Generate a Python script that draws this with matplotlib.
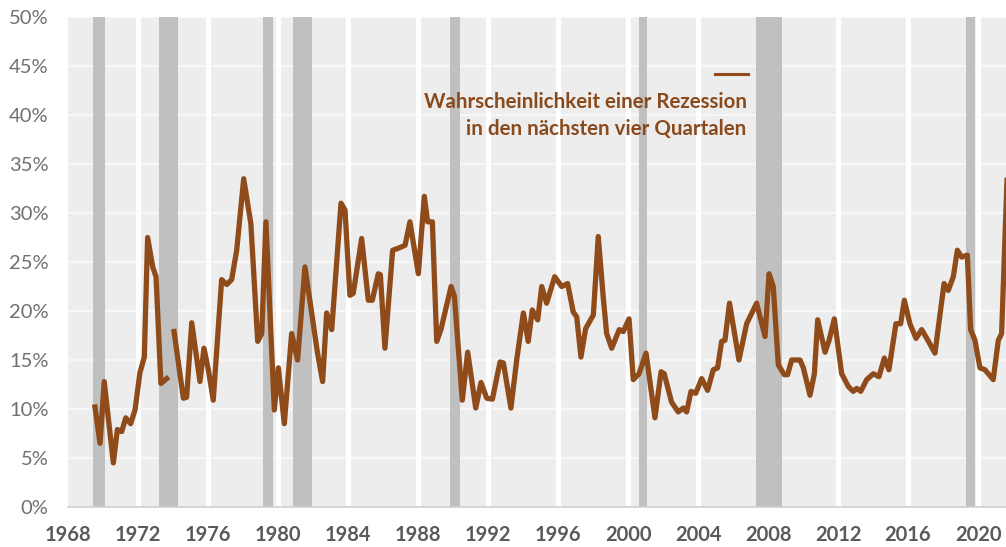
import numpy as np
import matplotlib
matplotlib.use("Agg")
import matplotlib.pyplot as plt
from matplotlib.lines import Line2D

# quarterly probability series (decimal year, percent)
years = [
    1969.54, 1969.83, 1970.07, 1970.59, 1970.82, 1971.07, 1971.30, 1971.58,
    1971.83, 1972.11, 1972.36, 1972.55, 1972.84, 1973.03, 1973.31, 1973.64,
    1973.85,
    1974.06, 1974.59, 1974.78, 1975.07, 1975.54, 1975.77, 1976.02, 1976.30,
    1976.78, 1977.07, 1977.35, 1977.64, 1978.04, 1978.45, 1978.84, 1979.07,
    1979.31, 1979.79, 1980.02, 1980.36, 1980.78, 1981.12, 1981.54, 1981.95,
    1982.25, 1982.55, 1982.78, 1983.07, 1983.60, 1983.83, 1984.11, 1984.30,
    1984.78, 1985.16, 1985.39, 1985.73, 1985.85, 1986.11, 1986.55, 1986.87,
    1987.26, 1987.54, 1988.02, 1988.36, 1988.55, 1988.82, 1989.07, 1989.31,
    1989.89, 1990.08, 1990.53, 1990.84, 1991.30, 1991.60, 1991.93, 1992.25,
    1992.69, 1992.88, 1993.31, 1993.64, 1994.02, 1994.30, 1994.53, 1994.84,
    1995.07, 1995.35, 1995.81, 1996.21, 1996.55, 1996.87, 1997.07, 1997.31,
    1997.58, 1998.02, 1998.30, 1998.59, 1998.78, 1999.07, 1999.50, 1999.73,
    2000.06, 2000.30, 2000.63, 2001.03, 2001.54, 2001.89, 2002.07, 2002.49,
    2002.87, 2003.16, 2003.35, 2003.60, 2003.87, 2004.21, 2004.55, 2004.87,
    2005.12, 2005.35, 2005.54, 2005.80, 2006.34, 2006.78, 2007.35, 2007.83,
    2008.06, 2008.30, 2008.59, 2008.93, 2009.12, 2009.35, 2009.83, 2010.02,
    2010.40, 2010.65, 2010.84, 2011.26, 2011.49, 2011.79, 2012.21, 2012.59,
    2012.87, 2013.07, 2013.30, 2013.64, 2014.02, 2014.34, 2014.65, 2014.91,
    2015.31, 2015.58, 2015.79, 2016.11, 2016.46, 2016.78, 2017.17, 2017.54,
    2018.06, 2018.30, 2018.59, 2018.82, 2019.07, 2019.39, 2019.58, 2019.83,
    2020.11, 2020.40, 2020.87, 2021.16, 2021.35, 2021.68,
]
prob = [
    10.2, 6.5, 12.8, 4.5, 7.9, 7.7, 9.1, 8.5,
    9.9, 13.7, 15.3, 27.5, 24.5, 23.5, 12.6, 13.1,
    np.nan,  # data gap 1973/74
    17.9, 11.1, 11.2, 18.8, 12.8, 16.2, 14.0, 10.9,
    23.2, 22.7, 23.2, 26.2, 33.5, 28.9, 16.9, 17.7,
    29.1, 9.9, 14.2, 8.5, 17.7, 15.0, 24.5, 19.5,
    15.8, 12.8, 19.8, 18.1, 31.0, 30.3, 21.6, 21.8,
    27.4, 21.1, 21.1, 23.8, 23.7, 16.2, 26.2, 26.4,
    26.7, 29.1, 23.8, 31.7, 29.1, 29.1, 16.9, 18.1,
    22.5, 21.5, 10.9, 15.8, 10.1, 12.7, 11.1, 11.0,
    14.8, 14.7, 10.1, 15.0, 19.8, 16.9, 20.1, 19.1,
    22.5, 20.8, 23.5, 22.5, 22.8, 19.9, 19.4, 15.3,
    18.2, 19.6, 27.6, 21.3, 17.7, 16.2, 18.1, 17.9,
    19.2, 13.0, 13.6, 15.7, 9.1, 13.8, 13.6, 10.7,
    9.7, 10.1, 9.7, 11.8, 11.6, 13.1, 11.9, 14.0,
    14.2, 16.9, 17.0, 20.8, 15.0, 18.7, 20.8, 17.4,
    23.8, 22.5, 14.5, 13.5, 13.5, 15.0, 15.0, 14.2,
    11.4, 13.6, 19.1, 15.8, 17.0, 19.2, 13.6, 12.3,
    11.8, 12.1, 11.8, 13.0, 13.6, 13.3, 15.2, 14.0,
    18.7, 18.7, 21.1, 18.7, 17.2, 18.1, 16.9, 15.7,
    22.8, 22.1, 23.5, 26.2, 25.5, 25.7, 18.1, 17.0,
    14.2, 14.0, 13.0, 17.0, 17.7, 34.5,
]

# shaded recession periods (start, end) in decimal years
rec_start = [1969.44, 1973.20, 1979.17, 1980.87, 1989.85, 2000.65, 2007.32, 2019.31]
rec_end = [1970.13, 1974.30, 1979.69, 1981.93, 1990.42, 2001.08, 2008.79, 2019.83]

tick_years = list(range(1968, 2021, 4))
y_ticks = list(range(0, 51, 5))

LINE_COLOR = "#8f4b1a"
TEXT_COLOR = "#8a4a1c"
BG = "#ededed"


def main():
    plt.rcParams["font.family"] = ["Lato", "DejaVu Sans"]

    fig = plt.figure(figsize=(10.06, 5.47), dpi=100)
    ax = fig.add_axes([68 / 1006, 40 / 547, 938 / 1006, 490 / 547])
    ax.set_facecolor(BG)

    # recession bands
    for s, e in zip(rec_start, rec_end):
        ax.axvspan(s, e, color="#c0c0c0", lw=0, zorder=1)

    # grid: white verticals at tick years, faint horizontals
    for yv in y_ticks[1:]:
        ax.axhline(yv, color="#f7f7f7", lw=1.6, zorder=0.5)
    for xv in tick_years[1:]:
        ax.axvline(xv, color="white", lw=3.8, zorder=0.6)

    ax.plot(years, prob, color=LINE_COLOR, lw=3.8, solid_joinstyle="round",
            zorder=3)

    ax.set_xlim(1968, 2021.6)
    ax.set_ylim(0, 50)
    ax.set_xticks(tick_years)
    ax.set_xticklabels([str(y) for y in tick_years])
    ax.set_yticks(y_ticks)
    ax.set_yticklabels([f"{v}%" for v in y_ticks])

    for side in ("top", "right", "left"):
        ax.spines[side].set_visible(False)
    ax.spines["bottom"].set_color("#cfcfcf")
    ax.spines["bottom"].set_linewidth(1.2)
    ax.spines["bottom"].set_zorder(4)
    ax.tick_params(axis="both", length=0)
    ax.tick_params(axis="y", pad=14, labelsize=14.5, labelcolor="#707070")
    ax.tick_params(axis="x", pad=13, labelsize=14.5, labelcolor="#5a5a5a")
    for lab in ax.get_xticklabels():
        lab.set_fontweight("bold")

    # legend key and text, drawn by hand (Excel-style, key above text)
    key = Line2D([0.6898, 0.7249], [0.8837, 0.8837], transform=ax.transAxes,
                 color=LINE_COLOR, lw=2.2, zorder=5)
    ax.add_line(key)
    ax.text(0.7235, 0.8265, "Wahrscheinlichkeit einer Rezession",
            transform=ax.transAxes, ha="right", va="center",
            fontsize=14.8, fontweight="bold", color=TEXT_COLOR, zorder=5)
    ax.text(0.7235, 0.7714, "in den nächsten vier Quartalen",
            transform=ax.transAxes, ha="right", va="center",
            fontsize=14.8, fontweight="bold", color=TEXT_COLOR, zorder=5)

    fig.savefig("out.png", dpi=100, facecolor="white")


if __name__ == "__main__":
    main()
